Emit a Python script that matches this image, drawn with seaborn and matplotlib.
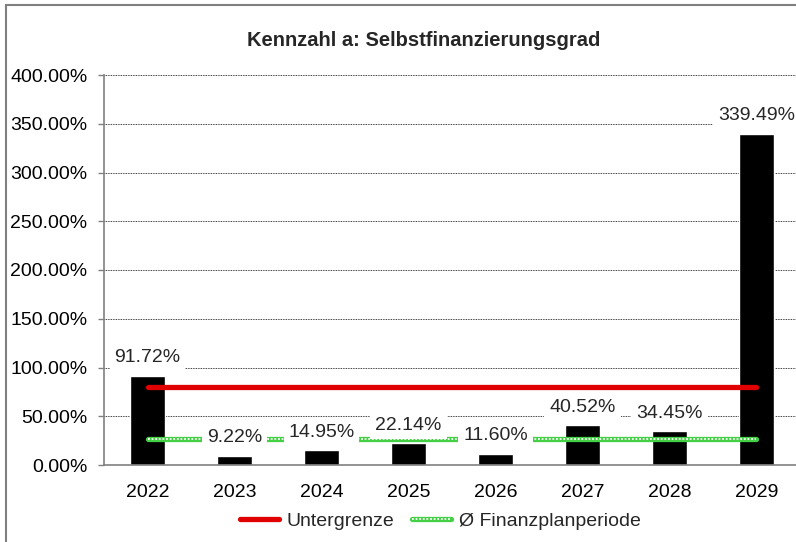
import matplotlib
matplotlib.use("Agg")
import matplotlib.pyplot as plt
import matplotlib.patches as patches
from matplotlib.lines import Line2D
import seaborn as sns
import pandas as pd
import numpy as np

# Daten
years = ["2022", "2023", "2024", "2025", "2026", "2027", "2028", "2029"]
ratio = [91.72, 9.22, 14.95, 22.14, 11.60, 40.52, 34.45, 339.49]
lower_limit = 80.0
period_avg = 26.5
title = "Kennzahl a: Selbstfinanzierungsgrad"
y_ticks = [0, 50, 100, 150, 200, 250, 300, 350, 400]

sns.set_theme(style="white")
plt.rcParams['font.family'] = ['Liberation Sans', 'DejaVu Sans']

df = pd.DataFrame({"year": years, "ratio": ratio})

fig = plt.figure(figsize=(7.96, 5.42), dpi=100)
ax = fig.add_axes([104 / 796, 77 / 542, 696 / 796, 390 / 542])

sns.barplot(data=df, x="year", y="ratio", color="black", width=0.41,
            saturation=1, ax=ax, zorder=2)

# Gitterlinien
ax.set_ylim(0, 400)
ax.set_yticks(y_ticks)
ax.set_yticklabels([f"{t:.2f}%" for t in y_ticks])
ax.yaxis.grid(True, color="black", linestyle=(0, (1, 1)), linewidth=0.6, zorder=0)
ax.set_axisbelow(True)
ax.set_xlim(-0.5, len(years) - 0.5)
ax.set_xlabel("")
ax.set_ylabel("")

for side in ["top", "right"]:
    ax.spines[side].set_visible(False)
for side in ["left", "bottom"]:
    ax.spines[side].set_color("#808080")
    ax.spines[side].set_linewidth(1.2)

ax.tick_params(axis="y", left=True, length=4.5, width=1, color="#808080",
               labelsize=14, pad=7.5, labelcolor="black")
ax.tick_params(axis="x", bottom=False, labelsize=14, pad=8, labelcolor="black")

# Linien
xs = np.arange(len(years))
ax.plot(xs, [lower_limit] * len(xs), color="#e00000", linewidth=3.8,
        solid_capstyle="round", zorder=4)
ax.plot(xs, [period_avg] * len(xs), color="#44d044", linewidth=3.8,
        solid_capstyle="round", zorder=3)
ax.plot(xs, [period_avg] * len(xs), color="white", linewidth=1.3,
        linestyle=(0, (1, 1)), zorder=3)

# Datenbeschriftungen
for i, v in enumerate(ratio):
    ax.annotate(f"{v:.2f}%", (i, v), xytext=(0, 13), textcoords="offset points",
                ha="center", va="center", fontsize=14, zorder=5,
                bbox=dict(boxstyle="square,pad=0.25", fc="white", ec="none"))

fig.text(0.532, 1 - 40 / 542, title, ha="center", va="center",
         fontsize=14.5, fontweight="bold")

# Legende
red = Line2D([], [], color="#e00000", linewidth=3.8, solid_capstyle="round")
green = Line2D([], [], color="#44d044", linewidth=3.8, solid_capstyle="round")
green_dots = Line2D([], [], color="white", linewidth=1.3, linestyle=(0, (1, 1)))
fig.legend([red, (green, green_dots)], ["Untergrenze", "Ø Finanzplanperiode"],
           loc="center", bbox_to_anchor=(0.553, 21 / 542), ncol=2, frameon=False,
           fontsize=14, handlelength=2.0, handletextpad=0.4, columnspacing=0.9)

# Rahmen
fig.patches.append(patches.Rectangle((6 / 796, -0.1), 2, 1.1 - 5 / 542,
                                     transform=fig.transFigure, fill=False,
                                     edgecolor="#808080", linewidth=1.5))

fig.savefig("out.png", dpi=100)
